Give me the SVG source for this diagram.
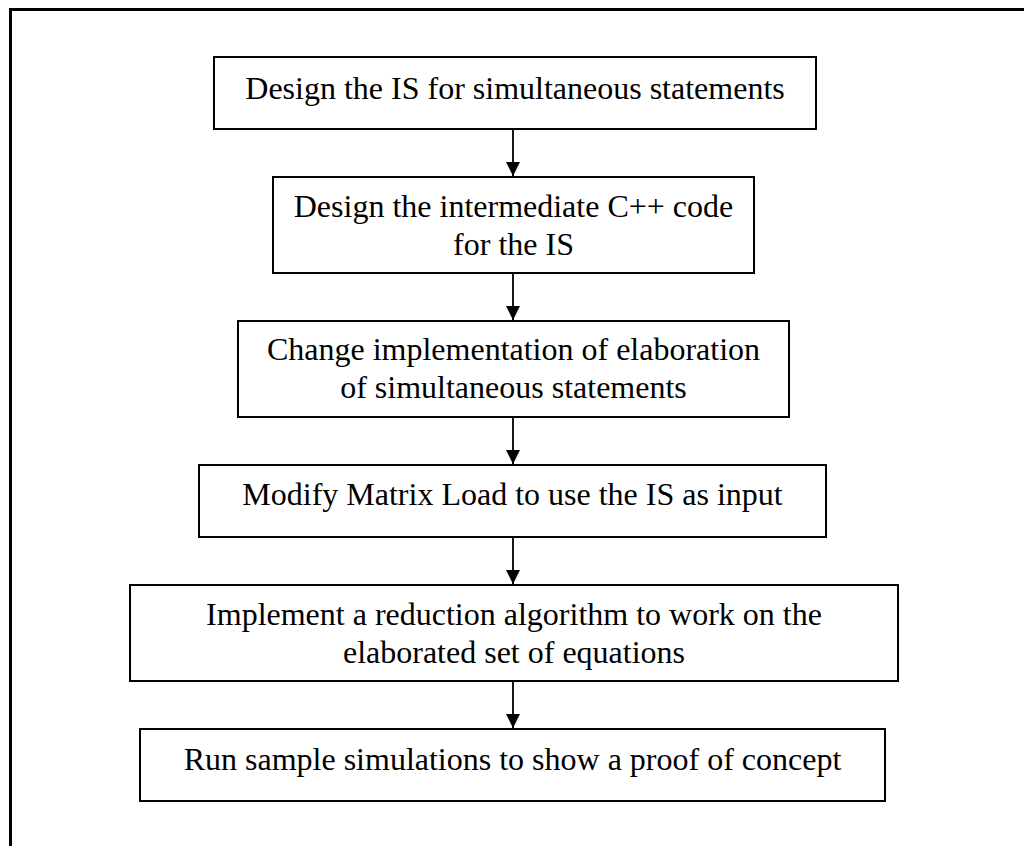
<svg xmlns="http://www.w3.org/2000/svg" width="1024" height="846" viewBox="0 0 1024 846">
  <defs>
    <style>
      .box { fill: #ffffff; stroke: #000000; stroke-width: 2; }
      .lbl { font-family: "Liberation Serif", "Times New Roman", serif; font-size: 32px; fill: #000000; text-anchor: middle; }
      .link { stroke: #000000; stroke-width: 1.8; fill: none; marker-end: url(#head); }
    </style>
    <marker id="head" viewBox="0 0 14 14" refX="14" refY="7" markerWidth="14" markerHeight="14" markerUnits="userSpaceOnUse" orient="auto">
      <path d="M0,0 L14,7 L0,14 Z" fill="#000000"/>
    </marker>
  </defs>

  <rect width="1024" height="846" fill="#ffffff"/>

  <!-- outer frame, running past the right and bottom edges -->
  <path d="M10.5,848 L10.5,9.5 L1026,9.5" fill="none" stroke="#000000" stroke-width="3"/>

  <g id="step-design-is">
    <rect class="box" x="214" y="57" width="602" height="72"/>
    <text class="lbl" x="515" y="99">Design the IS for simultaneous statements</text>
  </g>

  <g id="step-cpp-code">
    <rect class="box" x="273" y="177" width="481" height="96"/>
    <text class="lbl" x="513.5" y="217">Design the intermediate C++ code</text>
    <text class="lbl" x="513.5" y="255">for the IS</text>
  </g>

  <g id="step-elaboration">
    <rect class="box" x="238" y="321" width="551" height="96"/>
    <text class="lbl" x="513.5" y="360">Change implementation of elaboration</text>
    <text class="lbl" x="513.5" y="398">of simultaneous statements</text>
  </g>

  <g id="step-matrix-load">
    <rect class="box" x="199" y="465" width="627" height="72"/>
    <text class="lbl" x="512.5" y="505">Modify Matrix Load to use the IS as input</text>
  </g>

  <g id="step-reduction">
    <rect class="box" x="130" y="585" width="768" height="96"/>
    <text class="lbl" x="514" y="625">Implement a reduction algorithm to work on the</text>
    <text class="lbl" x="514" y="663">elaborated set of equations</text>
  </g>

  <g id="step-simulations">
    <rect class="box" x="140" y="729" width="745" height="72"/>
    <text class="lbl" x="512.5" y="770">Run sample simulations to show a proof of concept</text>
  </g>

  <g id="connectors">
    <line class="link" x1="513" y1="130" x2="513" y2="176"/>
    <line class="link" x1="513" y1="274" x2="513" y2="320"/>
    <line class="link" x1="513" y1="418" x2="513" y2="464"/>
    <line class="link" x1="513" y1="538" x2="513" y2="584"/>
    <line class="link" x1="513" y1="682" x2="513" y2="728"/>
  </g>
</svg>
